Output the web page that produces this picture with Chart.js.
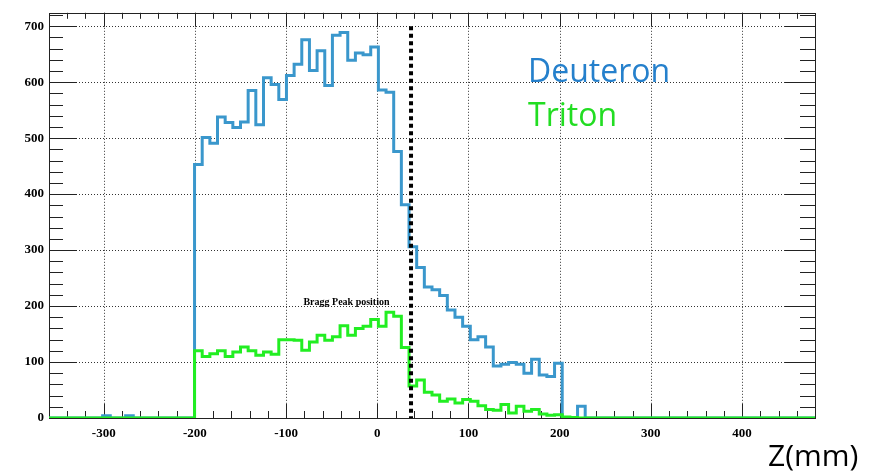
<!DOCTYPE html>
<html>
<head>
<meta charset="utf-8">
<script src="https://cdn.jsdelivr.net/npm/chart.js@4.4.0/dist/chart.umd.min.js"></script>
<style>
  html, body { margin: 0; padding: 0; background: #fff; }
</style>
</head>
<body>
<canvas id="chart" width="882" height="475"></canvas>
<script>
// histogram binning (100 bins from -360 to 480 mm)
var binStart = -360;
var binWidth = 8.4;

// counts per bin
var deuteron = [
  0, 0, 0, 0, 0, 0, 0, 4, 0, 0, 4, 0, 0, 0, 0, 0, 0, 0, 0,
  453, 501, 491, 538, 528, 519, 529, 585, 524, 608,
  596, 569, 612, 632, 676, 621, 656, 594, 684, 689,
  639, 652, 649, 663, 586, 582, 476, 381, 306, 269,
  234, 229, 219, 193, 180, 164, 140, 145, 127, 93,
  96, 99, 96, 80, 105, 77, 74, 98,
  1, 0, 21,
  0, 0, 0, 0, 0, 0, 0, 0, 0, 0, 0, 0, 0, 0, 0,
  0, 0, 0, 0, 0, 0, 0, 0, 0, 0, 0, 0, 0, 0, 0
];
var triton = [
  0, 0, 0, 0, 0, 0, 0, 0, 0, 0, 0, 0, 0, 0, 0, 0, 0, 0, 0,
  120, 110, 115, 120, 110, 118, 127, 120, 112, 118,
  114, 140, 140, 139, 121, 136, 148, 139, 145, 165,
  148, 160, 164, 176, 164, 189, 182, 126, 57, 68,
  46, 41, 30, 34, 27, 33, 30, 22, 15, 14,
  24, 9, 21, 12, 15, 7, 5, 6,
  2, 1,
  0, 0, 0, 0, 0, 0, 0, 0, 0, 0, 0, 0, 0, 0, 0, 0,
  0, 0, 0, 0, 0, 0, 0, 0, 0, 0, 0, 0, 0, 0, 0
];

var xTicks = [-300, -200, -100, 0, 100, 200, 300, 400];
var yTicks = [0, 100, 200, 300, 400, 500, 600, 700];
var braggZ = 37;

function steps(counts) {
  var pts = counts.map(function(c, i) {
    return { x: binStart + i * binWidth, y: c };
  });
  pts.push({ x: binStart + counts.length * binWidth, y: counts[counts.length - 1] });
  return pts;
}

var histFrame = {
  id: 'histFrame',
  beforeDatasetsDraw: function(chart) {
    var ctx = chart.ctx, a = chart.chartArea;
    var xs = chart.scales.x, ys = chart.scales.y;
    ctx.save();
    ctx.lineWidth = 1;
    ctx.strokeStyle = '#333';
    ctx.setLineDash([1, 2]);
    ctx.beginPath();
    xTicks.forEach(function(v) {
      var px = Math.round(xs.getPixelForValue(v)) + 0.5;
      ctx.moveTo(px, a.top); ctx.lineTo(px, a.bottom);
    });
    yTicks.forEach(function(v) {
      if (v === 0) return;
      var py = Math.round(ys.getPixelForValue(v)) + 0.5;
      ctx.moveTo(a.left, py); ctx.lineTo(a.right, py);
    });
    ctx.stroke();
    ctx.setLineDash([]);

    // ROOT style ticks on all four sides
    ctx.strokeStyle = '#222';
    ctx.beginPath();
    for (var v = -340; v < 480; v += 20) {
      var major = v % 100 === 0;
      var px = Math.round(xs.getPixelForValue(v)) + 0.5;
      var len = major ? 14 : 7;
      ctx.moveTo(px, a.bottom); ctx.lineTo(px, a.bottom - len);
      ctx.moveTo(px, a.top); ctx.lineTo(px, a.top + (major ? 14 : 6));
    }
    for (var w = 20; w < 724; w += 20) {
      var maj = w % 100 === 0;
      var py = Math.round(ys.getPixelForValue(w)) + 0.5;
      ctx.moveTo(a.left, py); ctx.lineTo(a.left + (maj ? 28 : 14), py);
      ctx.moveTo(a.right, py); ctx.lineTo(a.right - (maj ? 30 : 15), py);
    }
    ctx.stroke();
    ctx.strokeRect(Math.round(a.left) + 0.5, Math.round(a.top) + 0.5,
      Math.round(a.right - a.left), Math.round(a.bottom - a.top));
    ctx.restore();
  },
  afterDatasetsDraw: function(chart) {
    var ctx = chart.ctx;
    var xs = chart.scales.x, ys = chart.scales.y;
    ctx.save();
    // Bragg peak marker
    var bx = xs.getPixelForValue(braggZ);
    ctx.strokeStyle = '#000';
    ctx.lineWidth = 4;
    ctx.setLineDash([4, 3.5]);
    ctx.beginPath();
    ctx.moveTo(bx, ys.getPixelForValue(700));
    ctx.lineTo(bx, ys.getPixelForValue(0));
    ctx.stroke();
    ctx.setLineDash([]);

    ctx.fillStyle = '#000';
    ctx.font = 'bold 10px "Liberation Serif"';
    ctx.textBaseline = 'alphabetic';
    ctx.textAlign = 'left';
    ctx.fillText('Bragg Peak position', xs.getPixelForValue(-81), ys.getPixelForValue(202));

    ctx.font = '32px "Open Sans"';
    ctx.fillStyle = '#2580cc';
    ctx.fillText('Deuteron', 528, 82);
    ctx.fillStyle = '#22dd22';
    ctx.fillText('Triton', 528, 126);
    ctx.restore();
  },
  afterDraw: function(chart) {
    var ctx = chart.ctx;
    ctx.save();
    ctx.fillStyle = '#000';
    ctx.font = '30px "Open Sans"';
    ctx.fillText('Z(mm)', 768, 466);
    ctx.restore();
  }
};

var tickFont = { family: '"Liberation Serif"', size: 13, weight: 'bold' };

new Chart(document.getElementById('chart').getContext('2d'), {
  type: 'line',
  data: {
    datasets: [
      {
        label: 'Triton',
        data: steps(triton),
        borderColor: '#22ee22',
        borderWidth: 3,
        stepped: 'before',
        pointRadius: 0,
        fill: false,
        order: 0
      },
      {
        label: 'Deuteron',
        data: steps(deuteron),
        borderColor: '#3a97cc',
        borderWidth: 3,
        stepped: 'before',
        pointRadius: 0,
        fill: false,
        order: 1
      }
    ]
  },
  options: {
    responsive: false,
    animation: false,
    devicePixelRatio: 1,
    layout: { padding: { left: 0, top: 11, right: 67, bottom: 0 } },
    plugins: { legend: { display: false }, tooltip: { enabled: false } },
    scales: {
      x: {
        type: 'linear',
        min: -360,
        max: 480,
        grid: { display: false, drawTicks: false },
        border: { display: false },
        ticks: { stepSize: 100, includeBounds: false, font: tickFont, color: '#000', padding: 8, maxRotation: 0, autoSkip: false },
        afterBuildTicks: function(s) {
          s.ticks = xTicks.map(function(v) { return { value: v }; });
        },
        afterFit: function(s) { s.height = 57; }
      },
      y: {
        min: 0,
        max: 724,
        grid: { display: false, drawTicks: false },
        border: { display: false },
        ticks: { stepSize: 100, includeBounds: false, font: tickFont, color: '#000', padding: 5, autoSkip: false },
        afterBuildTicks: function(s) {
          s.ticks = yTicks.map(function(v) { return { value: v }; });
        },
        afterFit: function(s) { s.width = 49; }
      }
    }
  },
  plugins: [histFrame]
});
</script>
</body>
</html>
